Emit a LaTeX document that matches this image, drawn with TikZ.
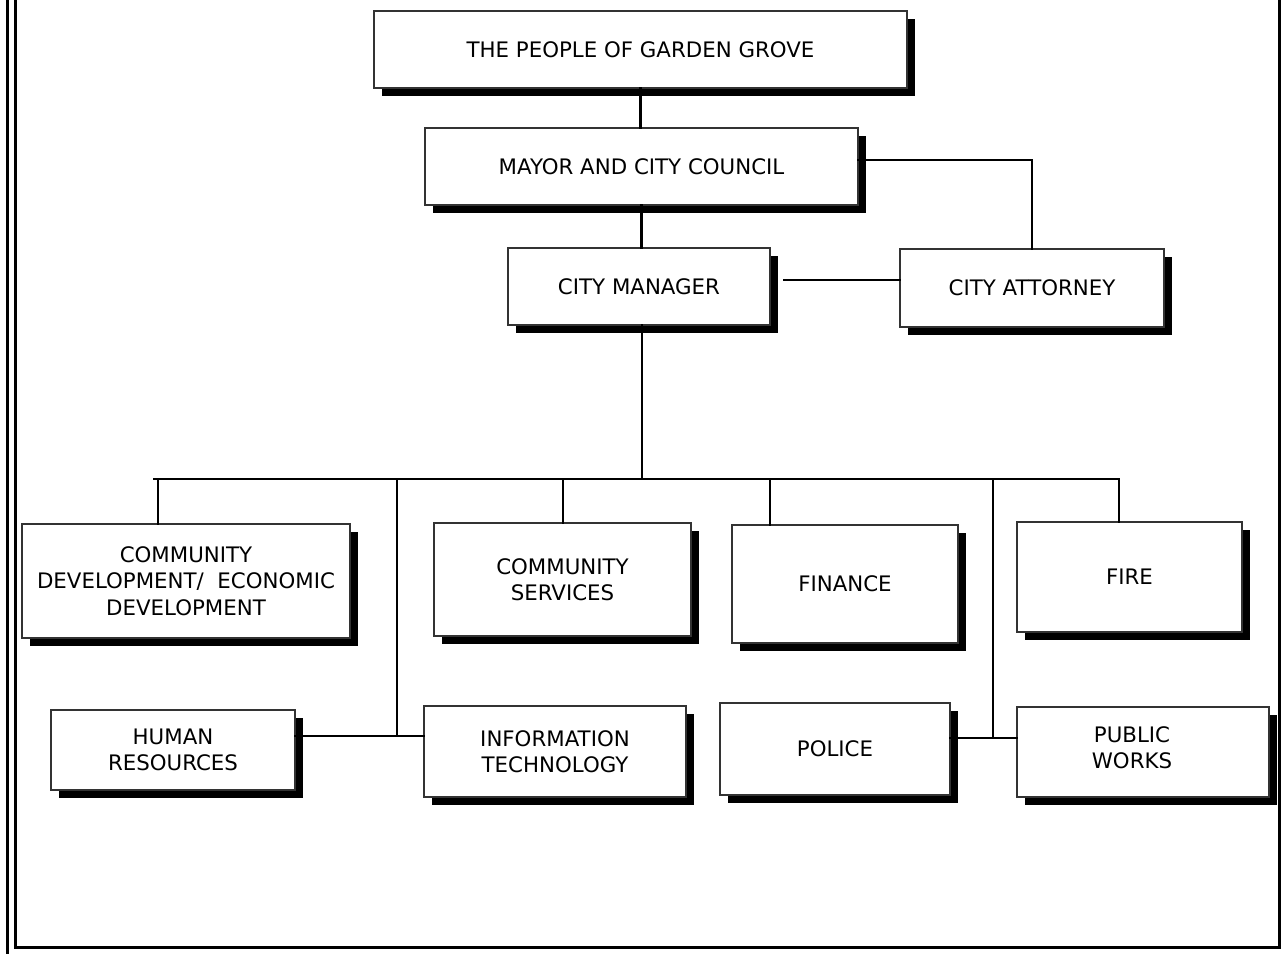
\documentclass[tikz,border=0pt]{standalone}
\usepackage{fontspec}
\setmainfont{DejaVu Sans}
\usetikzlibrary{shadows,calc}
\newdimen\pxu \pxu=0.75pt
\tikzset{
  orgbox/.style={rectangle, draw=black!80, line width=1pt, fill=white, inner sep=0pt, outer sep=0pt,
    align=center, font=\fontsize{16}{19.8}\selectfont,
    general shadow={fill=black, shadow xshift=6pt, shadow yshift=-6pt}},
  link/.style={line width=1.6pt, line cap=rect},
  frame/.style={line width=2.25pt}
}
\begin{document}
\begin{tikzpicture}[x=0.75pt,y=-0.75pt]
\useasboundingbox (0,0) rectangle (1285,954);
% outer frame
\draw[frame] (7.5,0) -- (7.5,954);
\draw[frame] (15.5,0) -- (15.5,947.5) -- (1279.5,947.5) -- (1279.5,0);

% boxes
\node[orgbox, minimum width=533\pxu, minimum height=77\pxu] (people) at (640.5,49.5) {THE PEOPLE OF GARDEN GROVE};
\node[orgbox, minimum width=433\pxu, minimum height=77\pxu] (mayor) at (641.5,166.5) {MAYOR AND CITY COUNCIL};
\node[orgbox, minimum width=262\pxu, minimum height=77\pxu] (manager) at (639,286.5) {CITY MANAGER};
\node[orgbox, minimum width=264\pxu, minimum height=78\pxu] (attorney) at (1032,288) {CITY ATTORNEY};
\node[orgbox, minimum width=328\pxu, minimum height=114\pxu] (cdev) at (186,581) {COMMUNITY\\DEVELOPMENT/~ ECONOMIC\\DEVELOPMENT};
\node[orgbox, minimum width=257\pxu, minimum height=113\pxu] (cserv) at (562.5,579.5) {COMMUNITY\\SERVICES};
\node[orgbox, minimum width=226\pxu, minimum height=118\pxu] (finance) at (845,584) {FINANCE};
\node[orgbox, minimum width=225\pxu, minimum height=110\pxu] (fire) at (1129.5,577) {FIRE};
\node[orgbox, minimum width=244\pxu, minimum height=80\pxu] (hr) at (173,750) {HUMAN\\RESOURCES};
\node[orgbox, minimum width=262\pxu, minimum height=91\pxu] (it) at (555,751.5) {INFORMATION\\TECHNOLOGY};
\node[orgbox, minimum width=230\pxu, minimum height=92\pxu] (police) at (835,749) {POLICE};
\node[orgbox, minimum width=252\pxu, minimum height=90\pxu,
  label={[name=pwtext, align=center, font=\fontsize{16}{19.8}\selectfont, xshift=-8.25pt, yshift=3pt]center:PUBLIC\\WORKS}] (pw) at (1143,752) {};

% helper coordinates
\coordinate (y160) at (0,160);
\coordinate (y280) at (0,280);
\coordinate (y736) at (0,736);
\coordinate (y738) at (0,738);
\coordinate (busc) at (642,479);
\coordinate (busL) at (154,479);
\coordinate (busR) at (1119,479);
\coordinate (d1) at (158,481);
\coordinate (d2) at (397,479);
\coordinate (d3) at (563,481);
\coordinate (d4) at (770,479);
\coordinate (d5) at (993,479);
\coordinate (d6) at (1119,481);

% connectors
\draw[link] (people.south) -- (people.south |- mayor.north);
\draw[link] (mayor.east |- y160) -- (attorney.north |- y160) -- (attorney.north);
\draw[link] (mayor.south) -- (mayor.south |- manager.north);
\draw[link] ($(manager.east |- y280)+(14,0)$) -- (attorney.west |- y280);
\draw[link] (manager.south -| busc) -- (busc);
\draw[link] (busL) -- (busR);
\draw[link] (d1) -- (d1 |- cdev.north);
\draw[link] (d2) -- (d2 |- y736);
\draw[link] (d3) -- (d3 |- cserv.north);
\draw[link] (d4) -- (d4 |- finance.north);
\draw[link] (d5) -- (d5 |- y738);
\draw[link] (d6) -- (d6 |- fire.north);
\draw[link] (hr.east |- y736) -- (it.west |- y736);
\draw[link] (police.east |- y738) -- (pw.west |- y738);
\end{tikzpicture}
\end{document}
